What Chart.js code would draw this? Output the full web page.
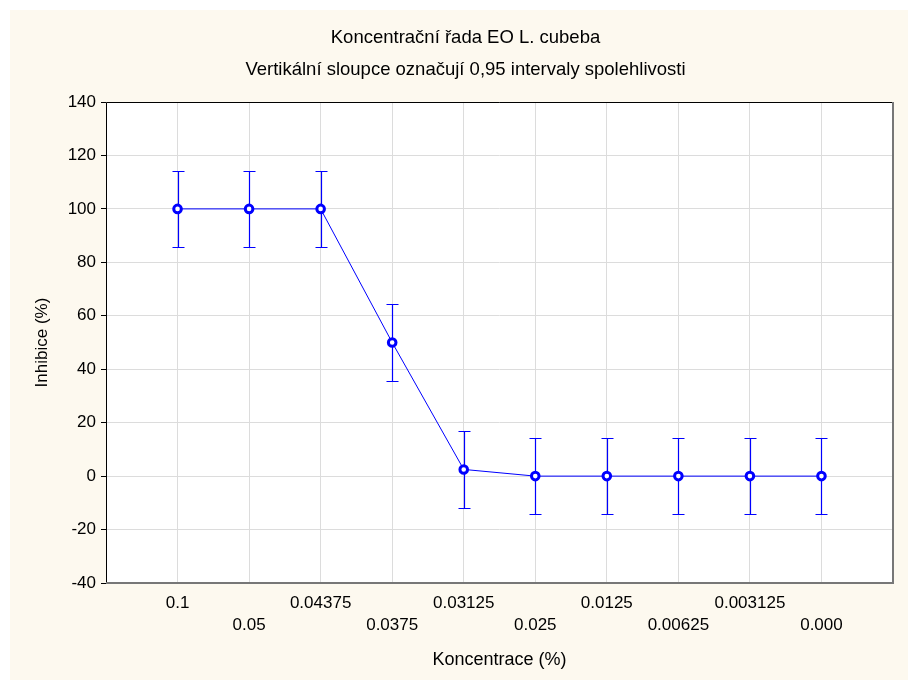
<!DOCTYPE html>
<html lang="cs">
<head>
  <meta charset="UTF-8">
  <title>Koncentrační řada EO L. cubeba</title>
  <script src="https://cdn.jsdelivr.net/npm/chart.js"></script>
  <style>
    html, body { margin: 0; padding: 0; background: #ffffff; overflow: hidden; }
    .frame { position: absolute; left: 10px; top: 10px; width: 898px; height: 670px; background: #fdf9ef; }
  </style>
</head>
<body>
  <div class="frame"><canvas id="chart"></canvas></div>

  <script>
    // concentration categories (left to right) and mean inhibition with 0.95 CI
    const concentrations = ['0.1', '0.05', '0.04375', '0.0375', '0.03125', '0.025', '0.0125', '0.00625', '0.003125', '0.000'];
    const inhibition = [100, 100, 100, 50, 2.5, 0, 0, 0, 0, 0];
    const ciLow = [85.7, 85.7, 85.7, 35.7, -11.8, -14.3, -14.3, -14.3, -14.3, -14.3];
    const ciHigh = [114.3, 114.3, 114.3, 64.3, 16.8, 14.3, 14.3, 14.3, 14.3, 14.3];
    const yTicks = [-40, -20, 0, 20, 40, 60, 80, 100, 120, 140];

    const blue = '#0000ff';
    const family = '"Liberation Sans", Arial, sans-serif';
    const font = { family, size: 17 };

    const plotBackground = {
      id: 'plotBackground',
      beforeDraw(chart) {
        const { ctx, chartArea: a } = chart;
        ctx.save();
        ctx.fillStyle = '#ffffff';
        ctx.fillRect(a.left, a.top, a.right - a.left, a.bottom - a.top);
        ctx.restore();
      }
    };

    const plotFrame = {
      id: 'plotFrame',
      afterDraw(chart) {
        const { ctx, chartArea: a } = chart;
        ctx.save();
        ctx.strokeStyle = '#000000';
        ctx.lineWidth = 1;
        ctx.beginPath();
        ctx.moveTo(a.left + 0.5, a.bottom);
        ctx.lineTo(a.left + 0.5, a.top + 0.5);
        ctx.lineTo(a.right, a.top + 0.5);
        ctx.stroke();
        ctx.strokeStyle = '#777777';
        ctx.lineWidth = 2;
        ctx.beginPath();
        ctx.moveTo(a.left, a.bottom);
        ctx.lineTo(a.right, a.bottom);
        ctx.lineTo(a.right, a.top);
        ctx.stroke();
        ctx.restore();
      }
    };

    const errorBars = {
      id: 'errorBars',
      beforeDatasetsDraw(chart) {
        const { ctx, scales: { x, y } } = chart;
        ctx.save();
        ctx.strokeStyle = blue;
        ctx.lineWidth = 1.2;
        concentrations.forEach((_, i) => {
          const px = Math.round(x.getPixelForValue(i + 1)) + 0.5;
          const lo = Math.round(y.getPixelForValue(ciLow[i])) + 0.5;
          const hi = Math.round(y.getPixelForValue(ciHigh[i])) + 0.5;
          ctx.beginPath();
          ctx.moveTo(px, lo);
          ctx.lineTo(px, hi);
          ctx.moveTo(px - 6, lo);
          ctx.lineTo(px + 6, lo);
          ctx.moveTo(px - 6, hi);
          ctx.lineTo(px + 6, hi);
          ctx.stroke();
        });
        ctx.restore();
      }
    };

    new Chart(document.getElementById('chart'), {
      type: 'line',
      data: {
        datasets: [{
          data: inhibition.map((v, i) => ({ x: i + 1, y: v })),
          borderColor: blue,
          borderWidth: 1,
          backgroundColor: '#ffffff',
          pointBackgroundColor: '#ffffff',
          pointBorderColor: blue,
          pointBorderWidth: 3,
          pointRadius: 3.8,
          tension: 0
        }]
      },
      options: {
        responsive: true,
        maintainAspectRatio: false,
        animation: false,
        layout: { padding: { left: 28, right: 15, top: 0, bottom: 0 } },
        plugins: {
          legend: { display: false },
          tooltip: { enabled: false },
          title: {
            display: true,
            text: ['Koncentrační řada EO L. cubeba', 'Vertikální sloupce označují 0,95 intervaly spolehlivosti'],
            color: '#000000',
            font: { family, size: 18.5, weight: 'normal', lineHeight: 1.73 },
            padding: { top: 12, bottom: 16 }
          }
        },
        scales: {
          x: {
            type: 'linear',
            min: 0,
            max: 11,
            afterBuildTicks: scale => { scale.ticks = concentrations.map((_, i) => ({ value: i + 1 })); },
            afterFit: scale => { scale.height = 97; },
            grid: { color: '#dcdcdc', drawTicks: false },
            border: { display: false },
            ticks: {
              color: '#000000',
              font: { ...font, lineHeight: 1.25 },
              padding: 10,
              autoSkip: false,
              maxRotation: 0,
              callback: value => {
                const i = value - 1;
                return i % 2 === 0 ? [concentrations[i], ''] : ['', concentrations[i]];
              }
            },
            title: {
              display: true,
              text: 'Koncentrace (%)',
              color: '#000000',
              font: { family, size: 18 },
              padding: { top: 0, bottom: 9 }
            }
          },
          y: {
            min: -40,
            max: 140,
            afterBuildTicks: scale => { scale.ticks = yTicks.map(v => ({ value: v })); },
            afterFit: scale => { scale.width = 68; },
            grid: { color: '#dcdcdc', tickLength: 5, tickColor: '#000000' },
            border: { display: false },
            ticks: { color: '#000000', font: font, padding: 5 },
            title: {
              display: true,
              text: 'Inhibice (%)',
              color: '#000000',
              font: font,
              padding: { top: -6, bottom: 0 }
            }
          }
        }
      },
      plugins: [plotBackground, errorBars, plotFrame]
    });
  </script>
</body>
</html>
